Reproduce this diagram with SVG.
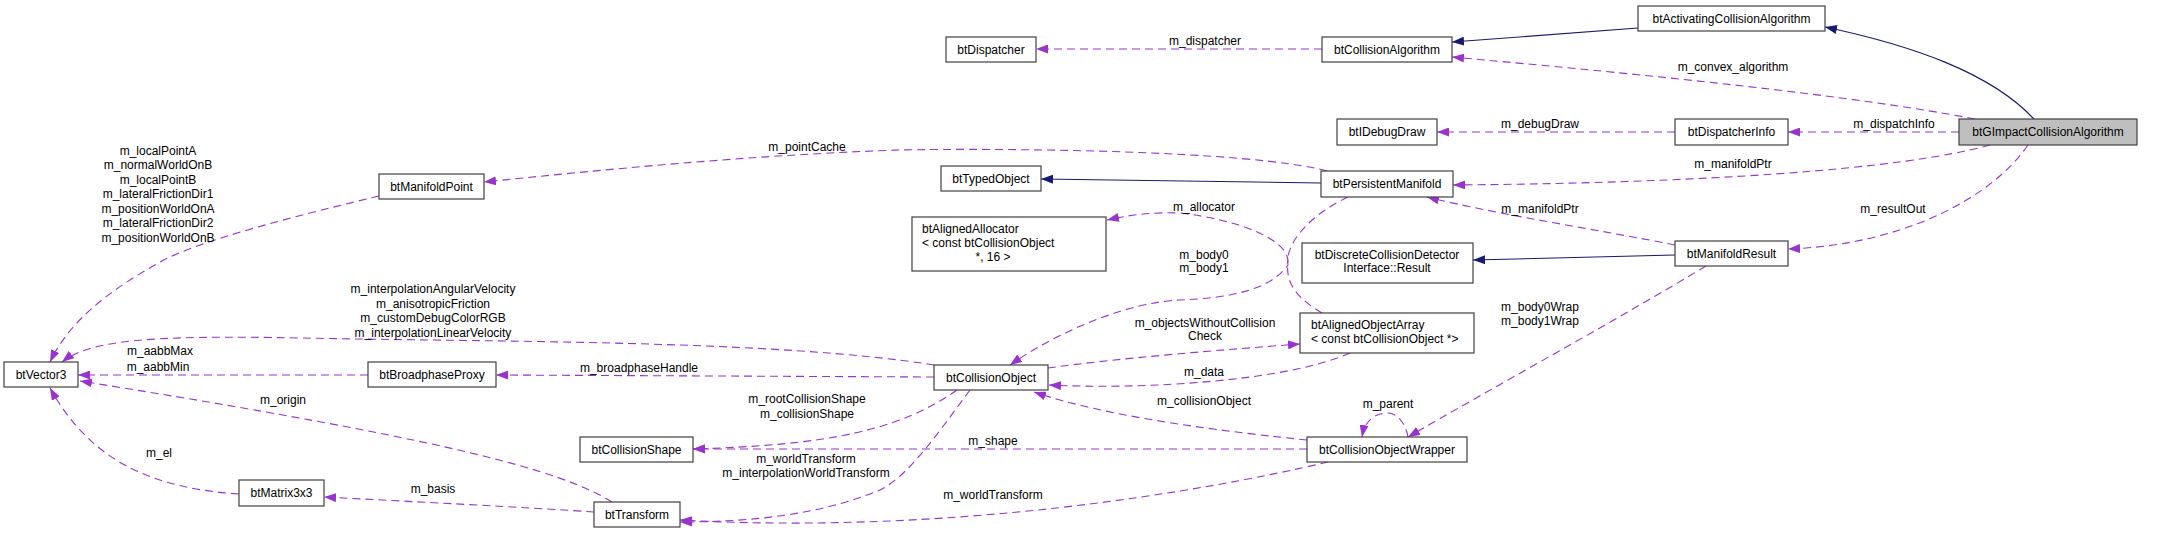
<svg xmlns="http://www.w3.org/2000/svg" width="2171" height="535" viewBox="0 0 2171 535">
<style>
text{font-family:"Liberation Sans",Arial,sans-serif;font-size:12px;fill:#000}
.n rect{fill:#fff;stroke:#404040;stroke-width:1.2}
.n text{text-anchor:middle}
.n text.l{text-anchor:start}
.lbl text{text-anchor:middle}
.d{fill:none;stroke:#9a32cd;stroke-width:1.1;stroke-dasharray:8,5;marker-end:url(#ap)}
.s{fill:none;stroke:#191970;stroke-width:1.1;marker-end:url(#an)}
</style>
<defs>
<marker id="ap" viewBox="0 0 12 9" refX="12" refY="4.5" markerWidth="12" markerHeight="9" orient="auto" markerUnits="userSpaceOnUse"><path d="M0,0 L12,4.5 L0,9 z" fill="#9a32cd"/></marker>
<marker id="an" viewBox="0 0 12 9" refX="12" refY="4.5" markerWidth="12" markerHeight="9" orient="auto" markerUnits="userSpaceOnUse"><path d="M0,0 L12,4.5 L0,9 z" fill="#191970"/></marker>
</defs>
<rect width="2171" height="535" fill="#fff"/>
<g id="connectors">
<path class="s" d="M2034,119 C1990,72 1910,45 1825,27"/>
<path class="s" d="M1638,28 L1452,42"/>
<path class="d" d="M1322,49 L1036,49"/>
<path class="d" d="M1975,119 C1850,95 1650,75 1452,57"/>
<path class="d" d="M1959,132 L1788,132"/>
<path class="d" d="M1675,132 L1437,132"/>
<path class="d" d="M1990,145 C1900,170 1700,183 1453,185"/>
<path class="d" d="M1675,245 C1600,230 1500,215 1427,197"/>
<path class="d" d="M2028,145 C1990,200 1900,245 1788,249"/>
<path class="s" d="M1675,255 L1473,260"/>
<path class="d" d="M1706,266 C1620,318 1480,395 1408,437"/>
<path class="d" d="M1408,437 C1405,420 1395,413 1388,413 C1375,413 1365,420 1362,437"/>
<path class="d" d="M1307,440 C1230,432 1110,418 1034,392"/>
<path class="d" d="M1307,449 L693,449"/>
<path class="d" d="M1328,462 C1200,492 950,535 680,520"/>
<path class="d" d="M970,390 C940,430 910,475 880,490 C820,515 750,522 680,522"/>
<path class="d" d="M957,390 C900,430 830,445 693,449"/>
<path class="d" d="M934,377 L496,375"/>
<path class="d" d="M934,365 C780,340 500,342 300,338 C150,335 90,340 62,362"/>
<path class="d" d="M368,375 L78,375"/>
<path class="d" d="M612,502 C560,470 450,440 80,381"/>
<path class="d" d="M239,494 C150,488 90,460 50,388"/>
<path class="d" d="M594,512 C520,507 420,502 324,497"/>
<path class="d" d="M379,196 C300,215 200,240 160,262 C110,290 70,320 50,362"/>
<path class="d" d="M1327,171 C1250,150 1000,148 900,150 C750,155 600,170 484,182"/>
<path class="s" d="M1321,183 L1041,179"/>
<path class="d" d="M1348,197 C1300,220 1285,250 1288,265 C1270,290 1230,298 1180,300 C1130,302 1060,330 1010,365"/>
<path class="d" d="M1322,313 C1300,300 1285,285 1288,263 C1290,240 1240,220 1180,213 C1150,212 1130,215 1107,220"/>
<path class="d" d="M1048,368 C1120,358 1220,350 1300,344"/>
<path class="d" d="M1350,353 C1290,380 1150,390 1049,385"/>
</g>
<g class="lbl" id="labels">
<text x="1205" y="45">m_dispatcher</text>
<text x="1733" y="71">m_convex_algorithm</text>
<text x="1894" y="128">m_dispatchInfo</text>
<text x="1540" y="128">m_debugDraw</text>
<text x="1733" y="168">m_manifoldPtr</text>
<text x="807" y="151">m_pointCache</text>
<text x="1204" y="211">m_allocator</text>
<text x="1540" y="213">m_manifoldPtr</text>
<text x="1893" y="213">m_resultOut</text>
<text x="1204" y="259">m_body0</text>
<text x="1204" y="272">m_body1</text>
<text x="158" y="155">m_localPointA</text>
<text x="158" y="169">m_normalWorldOnB</text>
<text x="158" y="184">m_localPointB</text>
<text x="158" y="198">m_lateralFrictionDir1</text>
<text x="158" y="213">m_positionWorldOnA</text>
<text x="158" y="227">m_lateralFrictionDir2</text>
<text x="158" y="242">m_positionWorldOnB</text>
<text x="433" y="293">m_interpolationAngularVelocity</text>
<text x="433" y="308">m_anisotropicFriction</text>
<text x="433" y="322">m_customDebugColorRGB</text>
<text x="433" y="337">m_interpolationLinearVelocity</text>
<text x="160" y="355">m_aabbMax</text>
<text x="158" y="371">m_aabbMin</text>
<text x="639" y="372">m_broadphaseHandle</text>
<text x="1205" y="327">m_objectsWithoutCollision</text>
<text x="1205" y="340">Check</text>
<text x="1204" y="376">m_data</text>
<text x="807" y="403">m_rootCollisionShape</text>
<text x="807" y="418">m_collisionShape</text>
<text x="283" y="404">m_origin</text>
<text x="1204" y="405">m_collisionObject</text>
<text x="1388" y="408">m_parent</text>
<text x="1540" y="311">m_body0Wrap</text>
<text x="1540" y="325">m_body1Wrap</text>
<text x="993" y="445">m_shape</text>
<text x="159" y="457">m_el</text>
<text x="806" y="463">m_worldTransform</text>
<text x="806" y="477">m_interpolationWorldTransform</text>
<text x="433" y="493">m_basis</text>
<text x="993" y="499">m_worldTransform</text>
</g>
<g class="n" id="btGImpactCollisionAlgorithm"><rect x="1959" y="119" width="178" height="26" style="fill:#bfbfbf"/><text x="2048" y="136">btGImpactCollisionAlgorithm</text></g>
<g class="n" id="btActivatingCollisionAlgorithm"><rect x="1638" y="6" width="187" height="25"/><text x="1731.5" y="23">btActivatingCollisionAlgorithm</text></g>
<g class="n" id="btCollisionAlgorithm"><rect x="1322" y="37" width="130" height="25"/><text x="1387" y="54">btCollisionAlgorithm</text></g>
<g class="n" id="btDispatcher"><rect x="946" y="37" width="90" height="25"/><text x="991" y="54">btDispatcher</text></g>
<g class="n" id="btIDebugDraw"><rect x="1337" y="119" width="100" height="26"/><text x="1387" y="136">btIDebugDraw</text></g>
<g class="n" id="btDispatcherInfo"><rect x="1675" y="119" width="113" height="26"/><text x="1731.5" y="136">btDispatcherInfo</text></g>
<g class="n" id="btPersistentManifold"><rect x="1321" y="171" width="132" height="26"/><text x="1387" y="188">btPersistentManifold</text></g>
<g class="n" id="btTypedObject"><rect x="941" y="166" width="100" height="25"/><text x="991" y="183">btTypedObject</text></g>
<g class="n" id="btManifoldPoint"><rect x="379" y="174" width="105" height="25"/><text x="431.5" y="191">btManifoldPoint</text></g>
<g class="n" id="btAlignedAllocator"><rect x="912" y="217" width="194" height="54"/><text class="l" x="922" y="233">btAlignedAllocator</text><text class="l" x="922" y="247">&lt; const btCollisionObject</text><text x="993" y="261">*, 16 &gt;</text></g>
<g class="n" id="btDiscreteCollisionDetectorInterfaceResult"><rect x="1302" y="243" width="171" height="40"/><text x="1387" y="259">btDiscreteCollisionDetector</text><text x="1387" y="272">Interface::Result</text></g>
<g class="n" id="btManifoldResult"><rect x="1675" y="241" width="113" height="25"/><text x="1731.5" y="258">btManifoldResult</text></g>
<g class="n" id="btAlignedObjectArray"><rect x="1300" y="313" width="174" height="40"/><text class="l" x="1311" y="329">btAlignedObjectArray</text><text class="l" x="1311" y="343">&lt; const btCollisionObject *&gt;</text></g>
<g class="n" id="btCollisionObject"><rect x="934" y="365" width="114" height="25"/><text x="991" y="382">btCollisionObject</text></g>
<g class="n" id="btCollisionObjectWrapper"><rect x="1307" y="437" width="160" height="25"/><text x="1387" y="454">btCollisionObjectWrapper</text></g>
<g class="n" id="btCollisionShape"><rect x="580" y="437" width="113" height="25"/><text x="636.5" y="454">btCollisionShape</text></g>
<g class="n" id="btTransform"><rect x="594" y="502" width="86" height="25"/><text x="637" y="519">btTransform</text></g>
<g class="n" id="btVector3"><rect x="4" y="362" width="74" height="25"/><text x="41" y="379">btVector3</text></g>
<g class="n" id="btBroadphaseProxy"><rect x="368" y="362" width="128" height="25"/><text x="432" y="379">btBroadphaseProxy</text></g>
<g class="n" id="btMatrix3x3"><rect x="239" y="480" width="85" height="26"/><text x="281.5" y="497">btMatrix3x3</text></g>
</svg>
